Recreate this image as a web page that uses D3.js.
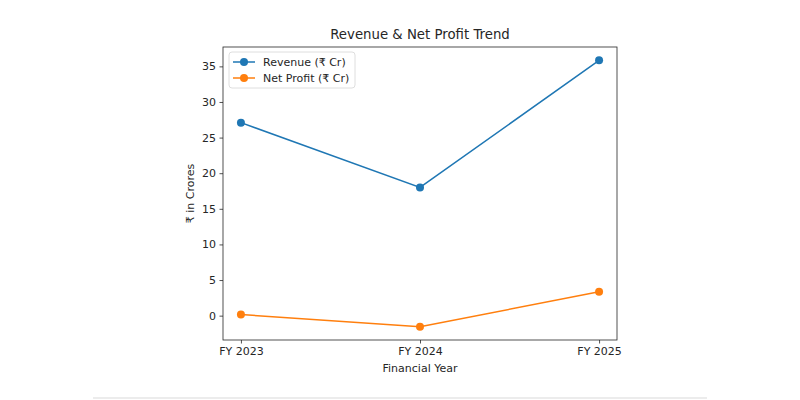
<!DOCTYPE html>
<head>
<meta charset="UTF-8">
<script src="https://d3js.org/d3.v7.min.js"></script>
<style>
  body { margin: 0; background: #fff; }
  text { font-family: "DejaVu Sans", sans-serif; fill: #262626; }
</style>
</head>
<body>
<div id="my_dataviz"></div>
<script>

// data
var years = ["FY 2023", "FY 2024", "FY 2025"];
var revenue = [27.1, 18.0, 35.85];
var netProfit = [0.15, -1.55, 3.35];
var yTicks = [0, 5, 10, 15, 20, 25, 30, 35];

var margin = {top: 47, right: 183, bottom: 60, left: 223},
    width = 800 - margin.left - margin.right,
    height = 400 - margin.top - margin.bottom;

var root = d3.select("#my_dataviz")
  .append("svg")
    .attr("width", 800)
    .attr("height", 400);

// faint rule at the bottom of the picture
root.append("rect")
  .attr("x", 93).attr("y", 397)
  .attr("width", 614).attr("height", 2)
  .style("fill", "#ececec");

var svg = root.append("g")
  .attr("transform", "translate(" + margin.left + "," + margin.top + ")");

// x: points with 5% padding like matplotlib
var x = d3.scalePoint()
  .domain(years)
  .range([width * 0.0455, width * (1 - 0.0455)]);

var allVals = revenue.concat(netProfit);
var lo = d3.min(allVals), hi = d3.max(allVals), pad = (hi - lo) * 0.05;
var y = d3.scaleLinear()
  .domain([lo - pad, hi + pad])
  .range([height, 0]);

// axes
svg.append("g")
  .attr("transform", "translate(0," + height + ")")
  .call(d3.axisBottom(x).tickSize(3.5).tickPadding(3.5))
  .call(function(g) { g.select(".domain").remove(); })
  .selectAll("text").style("font-size", "11px").style("fill", "#262626");

svg.append("g")
  .call(d3.axisLeft(y).tickValues(yTicks).tickSize(3.5).tickPadding(3.5))
  .call(function(g) { g.select(".domain").remove(); })
  .selectAll("text").style("font-size", "11px").style("fill", "#262626");

svg.selectAll(".tick line").style("stroke", "#262626").style("stroke-width", 0.8);

// frame
svg.append("rect")
  .attr("width", width).attr("height", height)
  .style("fill", "none")
  .style("stroke", "#262626")
  .style("stroke-width", 0.8);

var series = [
  {name: "Revenue (₹ Cr)", values: revenue, color: "#1f77b4"},
  {name: "Net Profit (₹ Cr)", values: netProfit, color: "#ff7f0e"}
];

var line = d3.line()
  .x(function(d, i) { return x(years[i]); })
  .y(function(d) { return y(d); });

series.forEach(function(s) {
  svg.append("path")
    .datum(s.values)
    .attr("d", line)
    .style("fill", "none")
    .style("stroke", s.color)
    .style("stroke-width", 1.5);
  svg.selectAll(null)
    .data(s.values)
    .enter()
    .append("circle")
      .attr("cx", function(d, i) { return x(years[i]); })
      .attr("cy", function(d) { return y(d); })
      .attr("r", 4)
      .style("fill", s.color);
});

// legend
var legend = svg.append("g").attr("transform", "translate(6,5)");
legend.append("rect")
  .attr("width", 126).attr("height", 36)
  .attr("rx", 3)
  .style("fill", "#fff")
  .style("fill-opacity", 0.8)
  .style("stroke", "#d6d6d6")
  .style("stroke-width", 0.8);
series.forEach(function(s, i) {
  var gy = 10 + i * 16;
  legend.append("line")
    .attr("x1", 4).attr("x2", 26)
    .attr("y1", gy).attr("y2", gy)
    .style("stroke", s.color).style("stroke-width", 1.5);
  legend.append("circle")
    .attr("cx", 15).attr("cy", gy).attr("r", 4)
    .style("fill", s.color);
  legend.append("text")
    .attr("x", 34).attr("y", gy + 4)
    .style("font-size", "11px")
    .text(s.name);
});

// title and axis labels
svg.append("text")
  .attr("x", width / 2).attr("y", -8)
  .attr("text-anchor", "middle")
  .style("font-size", "13.3px")
  .text("Revenue & Net Profit Trend");

svg.append("text")
  .attr("x", width / 2).attr("y", height + 32)
  .attr("text-anchor", "middle")
  .style("font-size", "11px")
  .text("Financial Year");

svg.append("text")
  .attr("transform", "translate(-29," + (height / 2) + ") rotate(-90)")
  .attr("text-anchor", "middle")
  .style("font-size", "11px")
  .text("₹ in Crores");

</script>
</body>
